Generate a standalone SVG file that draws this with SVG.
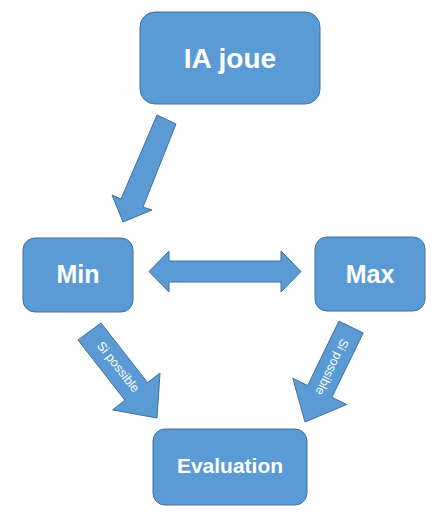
<svg xmlns="http://www.w3.org/2000/svg" width="445" height="522" viewBox="0 0 445 522">
<style>
.box{fill:#5B9BD5;stroke:#41719C;stroke-width:1}
.arr{fill:#5B9BD5;stroke:#41719C;stroke-width:1;stroke-linejoin:miter}
.lbl{font-family:"Liberation Sans",Arial,sans-serif;font-weight:bold;fill:#FFFFFF;text-anchor:middle}
.small{font-family:"Liberation Sans",Arial,sans-serif;font-size:12.5px;fill:#FFFFFF;text-anchor:middle;dominant-baseline:central}
</style>
<rect width="445" height="522" fill="#FFFFFF"/>
<g id="connectors">
<polygon class="arr" points="157,115 176,124 143,207 152,210 123,222 112,195 121,199"/>
<polygon class="arr" points="149,271.5 169,251 169,261 281,261 281,251 301,271.5 281,292 281,282 169,282 169,292"/>
<polygon class="arr" points="101,323 147.5,382.6 160,373 157,418 112.6,409.9 124.9,400.2 78,340"/>
<text class="small" transform="translate(118,367) rotate(52)">Si possible</text>
<polygon class="arr" points="338.9,321.1 363.2,332.9 331.9,397.3 346.8,404.5 305,422 292.8,378.3 307.7,385.5"/>
<text class="small" transform="translate(332,367) rotate(115.8)">Si possible</text>
</g>
<g id="ia-joue">
<rect class="box" x="140" y="12" width="180" height="92" rx="15"/>
<text class="lbl" x="230" y="68" font-size="28">IA joue</text>
</g>
<g id="min">
<rect class="box" x="23" y="238" width="110" height="74" rx="12"/>
<text class="lbl" x="78" y="283" font-size="25">Min</text>
</g>
<g id="max">
<rect class="box" x="315" y="237" width="110" height="74" rx="12"/>
<text class="lbl" x="370" y="283" font-size="25">Max</text>
</g>
<g id="evaluation">
<rect class="box" x="153" y="429" width="154" height="76" rx="12"/>
<text class="lbl" x="230" y="473" font-size="21">Evaluation</text>
</g>
</svg>
